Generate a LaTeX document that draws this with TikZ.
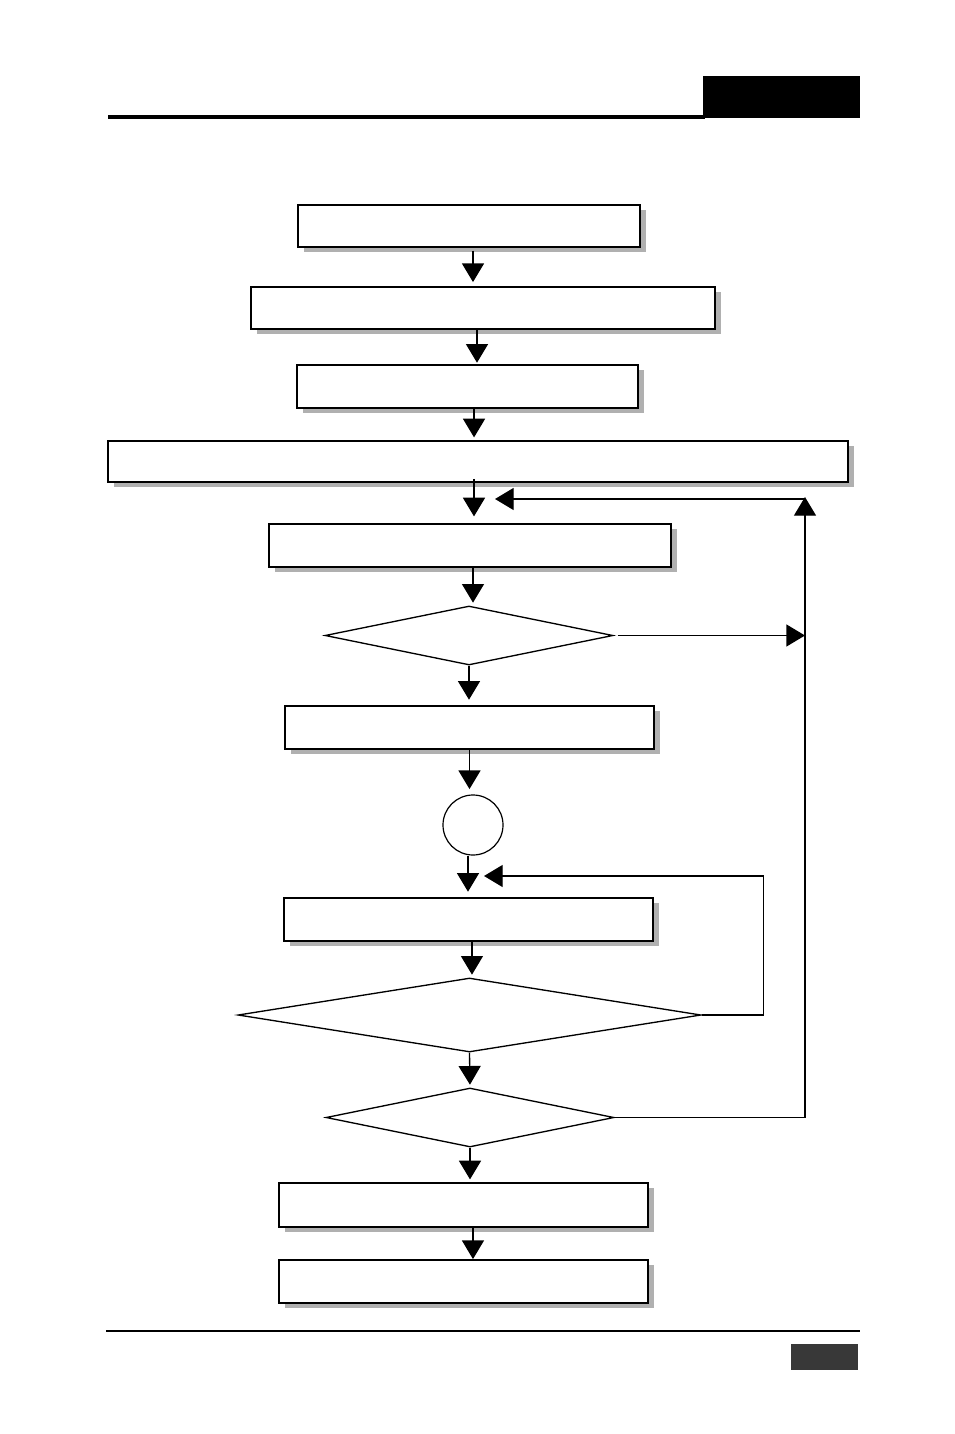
\documentclass[tikz,border=0pt]{standalone}
\usepackage{tikz}
\usetikzlibrary{arrows.meta,shapes,shadows}
\tikzstyle{stepbox}=[rectangle,draw,line width=1.4pt,fill=white,inner sep=0pt,drop shadow={shadow xshift=4.5pt,shadow yshift=-3.8pt,fill=black!31,opacity=1}]
\tikzstyle{decision}=[diamond,draw,line width=1pt,fill=white,inner sep=0pt]
\tikzstyle{junction}=[circle,draw,line width=0.9pt,fill=white,inner sep=0pt,minimum size=45pt]
\tikzstyle{flow} = [draw,line width=1pt,-{Triangle[width=16.5pt,length=14pt]}]
\tikzstyle{link} = [draw,line width=1pt]

\begin{document}
\begin{tikzpicture}[x=0.75pt,y=-0.75pt]

    \useasboundingbox (0,0) rectangle (954,1434);

    % page header and footer
    \draw[line width=2.3pt] (108,117) -- (705,117);
    \fill (703,76) rectangle (860,118.5);
    \draw[line width=1.1pt] (106,1331) -- (860,1331);
    \fill[black!78] (791,1344) rectangle (858,1370);

    % boxes
    \foreach \name/\x/\y/\w/\h in {b1/469/226/342/42, b2/483/308/464/42, b3/467.5/386.5/341/43,
        b4/478/461.5/740/41, b5/470/545.5/402/43, b6/469.5/727.5/369/43, b7/468.5/919.5/369/43,
        b8/463.5/1205/369/44, b9/463.5/1281.5/369/43}
        \node[stepbox, minimum width=\w*0.75pt, minimum height=\h*0.75pt] (\name) at (\x,\y) {};

    % decisions
    \foreach \name/\x/\y/\w/\h in {d1/469/635.5/288/59, d2/469.5/1015/463/74, d3/470/1117.5/288/59}
        \node[decision, minimum width=\w*0.75pt, minimum height=\h*0.75pt] (\name) at (\x,\y) {};

    \node[junction] (c1) at (473,825) {};

    \coordinate (rt) at (805,497);
    \coordinate (back1) at (495,499);
    \coordinate (back2) at (484,876);

    % main flow
    \draw[flow, shorten <=2pt, shorten >=3pt] ([xshift=3pt]b1.south) -- ([xshift=3pt]b1.south |- b2.north);
    \draw[flow, shorten >=1pt] ([xshift=-4.5pt]b2.south) -- ([xshift=-4.5pt]b2.south |- b3.north);
    \draw[flow, shorten >=2pt] ([xshift=4.9pt]b3.south) -- ([xshift=4.9pt]b3.south |- b4.north);
    \draw[flow, shorten <=-3pt, shorten >=5pt] ([xshift=-3pt]b4.south) -- ([xshift=-3pt]b4.south |- b5.north);
    \draw[flow, shorten >=2pt] ([xshift=2.25pt]b5.south) -- ([xshift=2.25pt]b5.south |- d1.north);
    \draw[flow, shorten >=4pt] (d1.south) -- (d1.south |- b6.north);
    \draw[flow, shorten >=4pt] (b6.south) -- (b6.south |- c1.north);
    \draw[flow, shorten >=4pt] ([xshift=-3.75pt]c1.south) -- ([xshift=-3.75pt]c1.south |- b7.north);
    \draw[flow, shorten >=2pt] ([xshift=2.6pt]b7.south) -- ([xshift=2.6pt]b7.south |- d2.north);
    \draw[flow, shorten >=2pt] (d2.south) -- (d3.north);
    \draw[flow, shorten >=2pt] (d3.south) -- (d3.south |- b8.north);
    \draw[flow] ([xshift=7.1pt]b8.south) -- ([xshift=7.1pt]b8.south |- b9.north);

    % loops back
    \draw[flow, shorten <=3pt] (d1.east) -- (d1.east -| rt);
    \draw[flow] (d3.east) -| (rt);
    \draw[flow] ([yshift=-1.5pt]rt) -- (back1);
    \draw[flow] (d2.east) -- ++(62,0) |- (back2);

\end{tikzpicture}
\end{document}
